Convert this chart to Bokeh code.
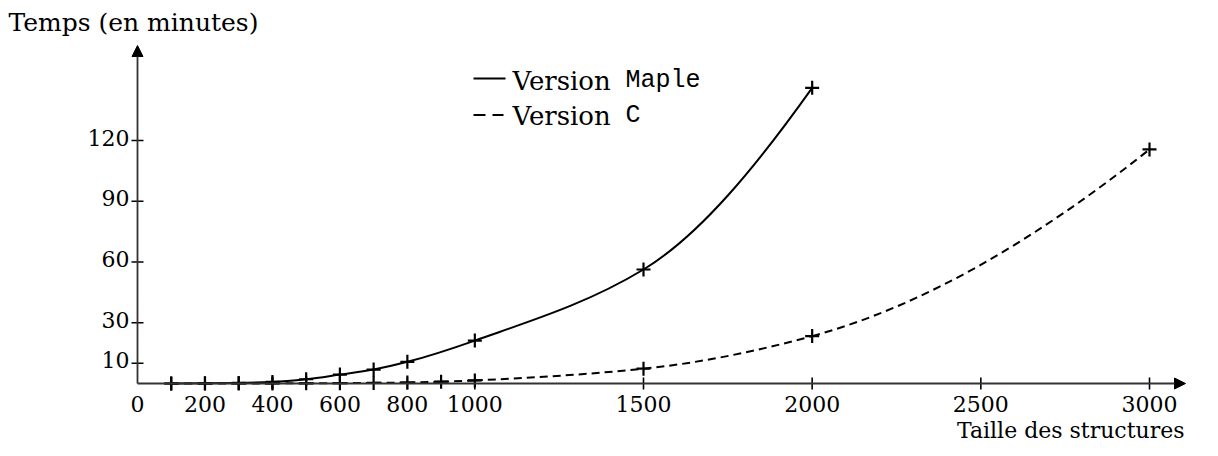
import numpy as np
from bokeh.plotting import figure
from bokeh.models import Range1d, Arrow, NormalHead, Label
from bokeh.core.properties import value
from bokeh.embed import file_html
from bokeh.resources import INLINE

# ---- data ----
maple_x = [100, 200, 300, 400, 500, 600, 700, 800, 1000, 1500, 2000]
maple_y = [0.0, 0.1, 0.3, 0.8, 2.1, 4.4, 6.9, 10.7, 21.2, 56.3, 146.0]
c_x = [100, 200, 300, 400, 500, 600, 700, 800, 900, 1000, 1500, 2000, 3000]
c_y = [0.0, 0.0, 0.0, 0.05, 0.1, 0.15, 0.3, 0.5, 0.9, 1.5, 7.3, 23.4, 115.6]
x_ticks = [0, 200, 400, 600, 800, 1000, 1500, 2000, 2500, 3000]
y_ticks = [10, 30, 60, 90, 120]
x_tick_labels = [str(t) for t in x_ticks]
y_tick_labels = [str(t) for t in y_ticks]

# ---- page <-> data mapping used for layout ----
X0, PPX = 137.0, 1012.0 / 3000.0
Y0, PPY = 383.0, 2.025
TDY = 8.0  # text baseline correction (px)


def px2x(px):
    return (px - X0) / PPX


def py2y(py):
    return (Y0 - py) / PPY


def ty(py):
    return py2y(py - TDY)


W, H = 1210, 452
p = figure(width=W, height=H, output_backend="svg", toolbar_location=None,
           x_range=Range1d(px2x(0), px2x(W)), y_range=Range1d(py2y(H), py2y(0)),
           min_border=0, x_axis_location=None, y_axis_location=None)
p.outline_line_color = None
p.grid.visible = False
p.background_fill_color = "white"
p.border_fill_color = "white"

SERIF = "DejaVu Serif"
MONO = "Liberation Mono"


def hermite(xs, ys):
    xs = np.asarray(xs, float)
    ys = np.asarray(ys, float)
    h = np.diff(xs)
    d = np.diff(ys) / h
    m = np.zeros_like(xs)
    for i in range(1, len(xs) - 1):
        if d[i - 1] * d[i] > 0:
            w1 = 2 * h[i] + h[i - 1]
            w2 = h[i] + 2 * h[i - 1]
            m[i] = (w1 + w2) / (w1 / d[i - 1] + w2 / d[i])
    m[0] = max(0.0, d[0] - (d[1] - d[0]) * h[0] / (h[0] + h[1]))
    m[-1] = d[-1] + (d[-1] - d[-2]) * h[-1] / (h[-2] + h[-1])
    return dict(x0=xs[:-1], y0=ys[:-1], x1=xs[1:], y1=ys[1:],
                cx0=xs[:-1] + h / 3, cy0=ys[:-1] + m[:-1] * h / 3,
                cx1=xs[1:] - h / 3, cy1=ys[1:] - m[1:] * h / 3)


# axes with arrow heads
AX = "#333333"
p.add_layout(Arrow(x_start=0, y_start=0, x_end=0, y_end=py2y(45),
                   line_color=AX, line_width=1.8,
                   end=NormalHead(size=11, fill_color="black", line_color="black")))
p.add_layout(Arrow(x_start=0, y_start=0, x_end=px2x(1185), y_end=0,
                   line_color=AX, line_width=1.8,
                   end=NormalHead(size=11, fill_color="black", line_color="black")))

# tick marks (crossing the axes) and tick labels
p.scatter(x_ticks[1:], [0] * (len(x_ticks) - 1), marker="dash", angle=np.pi / 2,
          size=12, line_width=1.6, line_color="black")
p.scatter([0] * len(y_ticks), y_ticks, marker="dash", size=12, line_width=1.6,
          line_color="black")
p.text(x=x_ticks, y=[ty(411)] * len(x_ticks), text=x_tick_labels,
       text_align="center", text_baseline="alphabetic", text_font=value(SERIF),
       text_font_size="22px", text_color="black")
p.text(x=[px2x(129)] * len(y_ticks), y=[t - (5.0 - TDY) / PPY for t in y_ticks],
       text=y_tick_labels, text_align="right", text_baseline="alphabetic",
       text_font=value(SERIF), text_font_size="22px", text_color="black")

# curves and markers
mb = hermite(maple_x, maple_y)
p.bezier(line_color="black", line_width=2, **mb)
cb = hermite(c_x, c_y)
p.bezier(line_color="black", line_width=2, line_dash="8 5", **cb)

p.scatter(maple_x, maple_y, marker="cross", size=14, line_width=2.2, color="black")
p.scatter(c_x, c_y, marker="cross", size=14, line_width=2.2, color="black")

p.add_layout(Label(x=px2x(8), y=ty(30), text="Temps (en minutes)",
                   text_font=SERIF, text_font_size="25px", text_color="black",
                   text_baseline="alphabetic", text_align="left"))
p.add_layout(Label(x=px2x(1184), y=ty(438), text="Taille des structures",
                   text_font=SERIF, text_font_size="22px", text_color="black",
                   text_baseline="alphabetic", text_align="right"))

# legend
p.add_layout(Arrow(x_start=px2x(473), y_start=py2y(78), x_end=px2x(505), y_end=py2y(78),
                   start=None, end=None, line_color="black", line_width=2))
p.add_layout(Arrow(x_start=px2x(473), y_start=py2y(114.5), x_end=px2x(503), y_end=py2y(114.5),
                   start=None, end=None, line_color="black", line_width=2, line_dash="12 7"))
for txt, xx, yy, font, fs in [("Version", 512, 88, SERIF, "26px"), ("Maple", 625, 88, MONO, "25px"),
                              ("Version", 512, 123, SERIF, "26px"), ("C", 625, 123, MONO, "25px")]:
    p.add_layout(Label(x=px2x(xx), y=ty(yy), text=txt, text_font=font,
                       text_font_size=fs, text_color="black",
                       text_baseline="alphabetic", text_align="left"))

open("out.html", "w").write(file_html(p, INLINE))
